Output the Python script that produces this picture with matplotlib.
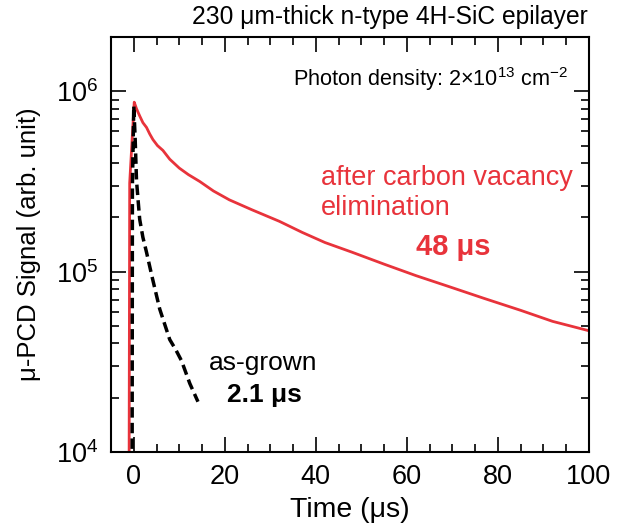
import numpy as np
import matplotlib
matplotlib.use("Agg")
import matplotlib.pyplot as plt
from matplotlib.ticker import MultipleLocator, LogLocator, NullFormatter

plt.rcParams['font.family'] = ['Liberation Sans', 'DejaVu Sans']
plt.rcParams['mathtext.fontset'] = 'custom'
plt.rcParams['mathtext.rm'] = 'Liberation Sans'
plt.rcParams['mathtext.it'] = 'Liberation Sans:italic'
plt.rcParams['mathtext.bf'] = 'Liberation Sans:bold'

# after carbon vacancy elimination (red)
t_after = [-1.1, -0.9, 0.1, 0.6, 1.3, 2.0, 2.8, 3.5, 4.2, 5.2, 6.4, 7.9, 10, 12, 14.5,
           17.5, 21, 26, 32, 37, 42, 48, 55, 62, 69, 77, 85, 92, 100]
s_after = [1e3, 3.1e5, 8.7e5, 8.0e5, 7.3e5, 6.7e5, 6.3e5, 5.8e5, 5.4e5, 5.0e5, 4.7e5,
           4.2e5, 3.75e5, 3.45e5, 3.16e5, 2.8e5, 2.5e5, 2.2e5, 1.9e5, 1.65e5, 1.45e5,
           1.28e5, 1.1e5, 9.5e4, 8.3e4, 7.1e4, 6.1e4, 5.3e4, 4.7e4]

# as-grown (black dashed)
t_asg = [-0.4, -0.3, 0.0, 0.3, 0.6, 1.0, 1.3, 2.0, 2.8, 4.0, 5.7, 6.8, 7.9, 9.2, 10.5,
         12.3, 14.1]
s_asg = [1e3, 3e5, 8.3e5, 5.5e5, 3.2e5, 2.4e5, 1.95e5, 1.55e5, 1.28e5, 9.4e4, 6.2e4,
         5.1e4, 4.2e4, 3.7e4, 3.2e4, 2.4e4, 1.9e4]

fig = plt.figure(figsize=(6.29, 5.26), dpi=100)
ax = fig.add_axes([0.1765, 0.1407, 0.7599, 0.789])

ax.plot(t_after, s_after, color='#e8333b', linewidth=2.0)
ax.plot(t_asg, s_asg, color='black', linewidth=2.5, linestyle=(0, (3, 1.5)))

ax.set_yscale('log')
ax.set_xlim(-5, 100)
ax.set_ylim(1e4, 2e6)

ax.xaxis.set_major_locator(MultipleLocator(20))
ax.xaxis.set_minor_locator(MultipleLocator(5))
ax.yaxis.set_major_locator(LogLocator(base=10, numticks=10))
ax.yaxis.set_minor_locator(LogLocator(base=10, subs=np.arange(2, 10), numticks=20))
ax.yaxis.set_minor_formatter(NullFormatter())

ax.tick_params(which='both', direction='in', top=True, right=True, width=1.2)
ax.tick_params(which='major', length=11, labelsize=19.5, pad=9)
ax.tick_params(which='minor', length=6)
for sp in ax.spines.values():
    sp.set_linewidth(1.5)

ax.set_xlabel('Time (μs)', fontsize=20.5, labelpad=5)
ax.set_ylabel('μ-PCD Signal (arb. unit)', fontsize=18.5, labelpad=11)

fig.text(0.935, 0.967, '230 μm-thick n-type 4H-SiC epilayer', fontsize=17.7,
         ha='right', va='center')
ax.text(0.955, 0.898, 'Photon density: 2×10$^{13}$ cm$^{-2}$', transform=ax.transAxes,
        fontsize=15.6, ha='right', va='center')
ax.text(0.44, 0.625, 'after carbon vacancy\nelimination', transform=ax.transAxes,
        fontsize=19.5, color='#e8333b', ha='left', va='center', linespacing=1.2)
ax.text(0.715, 0.495, '48 μs', transform=ax.transAxes, fontsize=21, color='#e8333b',
        fontweight='bold', ha='center', va='center')
ax.text(0.205, 0.215, 'as-grown', transform=ax.transAxes, fontsize=19,
        ha='left', va='center')
ax.text(0.322, 0.138, '2.1 μs', transform=ax.transAxes, fontsize=19,
        fontweight='bold', ha='center', va='center')

fig.savefig('out.png', dpi=100)
